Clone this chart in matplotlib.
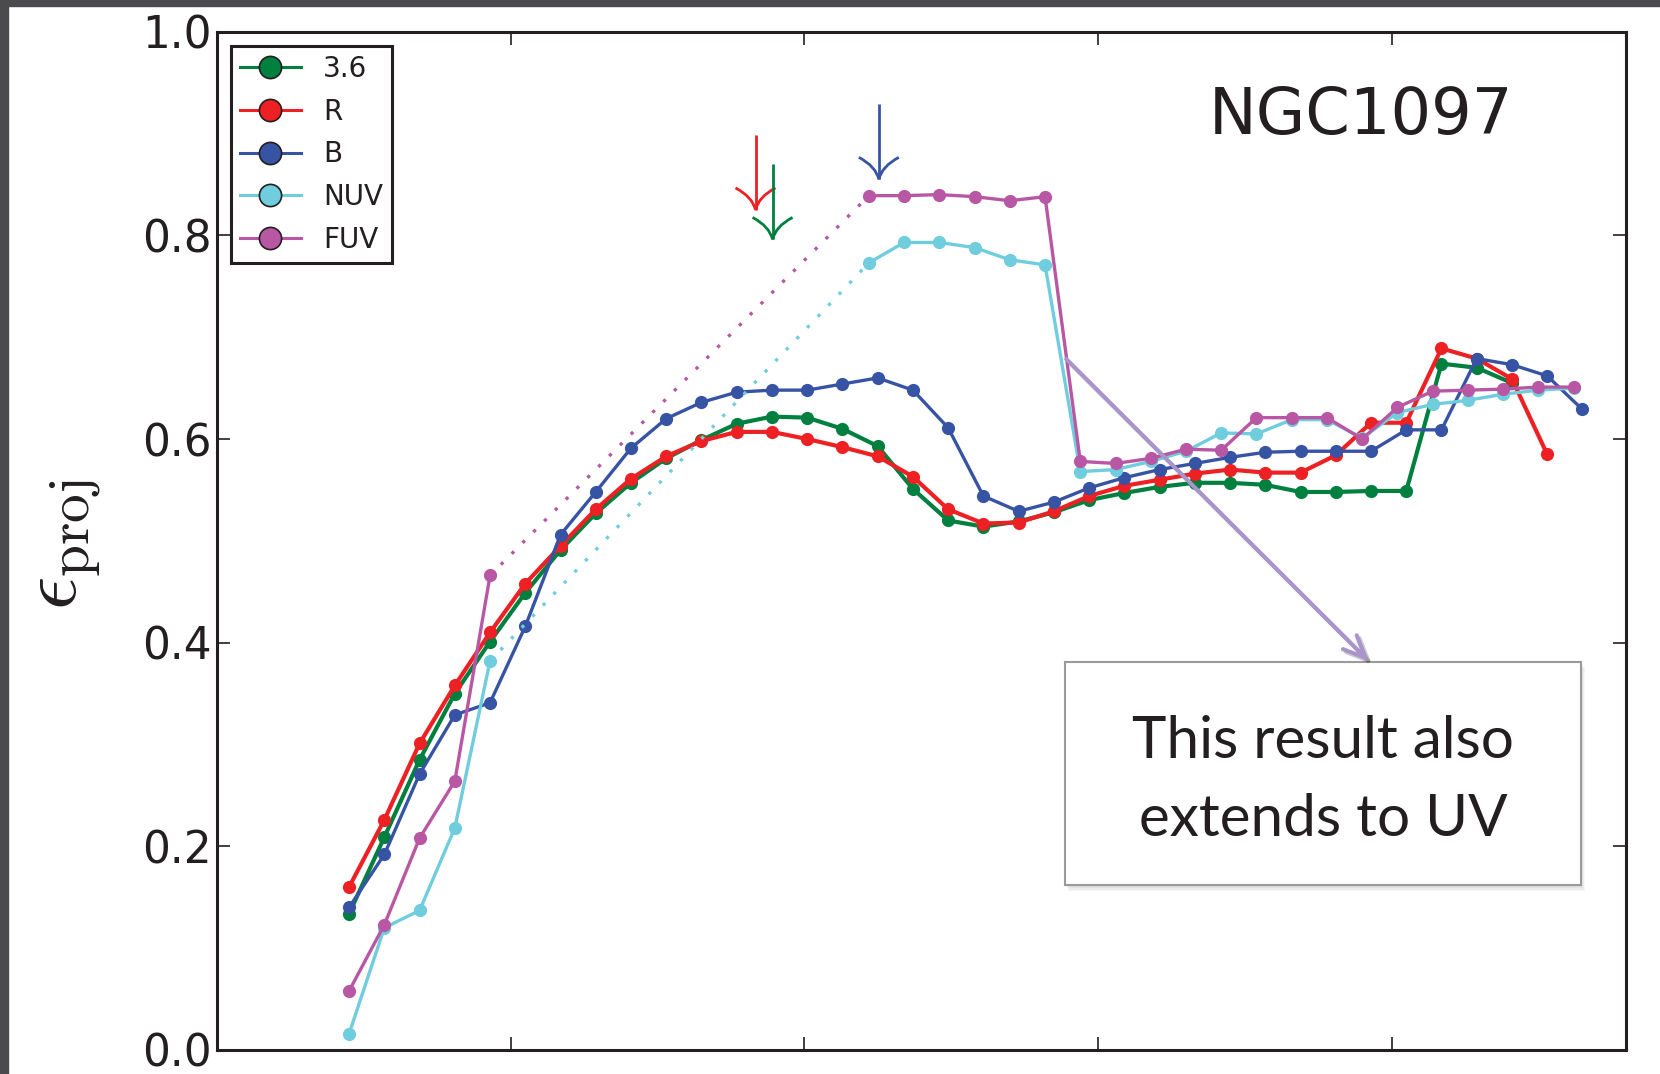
import matplotlib.pyplot as plt
import matplotlib.patheffects as pe
from matplotlib.lines import Line2D
from matplotlib.patches import Rectangle, PathPatch
from matplotlib.path import Path

plt.rcParams['mathtext.fontset'] = 'cm'
ink = '#231f20'

# radial bins of the optical / IR profiles
r_opt = [22.5, 28.5, 34.5, 40.5, 46.5, 52.5, 58.5, 64.5, 70.5, 76.5,
         82.5, 88.5, 94.5, 100.5, 106.5, 112.5, 118.5, 124.5, 130.5, 136.5,
         142.5, 148.5, 154.5, 160.5, 166.5, 172.5, 178.5, 184.5, 190.5, 196.5,
         202.5, 208.5, 214.5, 220.5, 226.5, 232.5]
# UV bins: inner part on the optical grid, outer part on its own grid
r_uv_in = [22.5, 28.5, 34.5, 40.5, 46.5]
r_uv_out = [111, 117, 123, 129, 135, 141, 147, 153, 159, 165, 171,
            177, 183, 189, 195, 201, 207, 213, 219, 225, 231]

eps_36 = [0.134, 0.209, 0.285, 0.350, 0.401, 0.449, 0.491, 0.527, 0.557, 0.581,
          0.599, 0.615, 0.622, 0.621, 0.610, 0.593, 0.551, 0.520, 0.514, 0.519,
          0.528, 0.540, 0.547, 0.553, 0.557, 0.557, 0.555, 0.548, 0.548, 0.549,
          0.549, 0.674, 0.670, 0.655]
eps_R = [0.160, 0.226, 0.301, 0.358, 0.410, 0.458, 0.495, 0.531, 0.561, 0.583,
         0.598, 0.607, 0.607, 0.600, 0.592, 0.583, 0.563, 0.531, 0.517, 0.518,
         0.529, 0.544, 0.554, 0.560, 0.566, 0.570, 0.567, 0.567, 0.584, 0.616,
         0.616, 0.689, 0.679, 0.659, 0.585]
eps_B = [0.140, 0.192, 0.271, 0.329, 0.341, 0.416, 0.506, 0.548, 0.591, 0.620,
         0.636, 0.646, 0.648, 0.648, 0.654, 0.660, 0.648, 0.611, 0.544, 0.529,
         0.538, 0.552, 0.562, 0.570, 0.576, 0.582, 0.587, 0.588, 0.588, 0.588,
         0.609, 0.609, 0.679, 0.673, 0.662, 0.629]
eps_nuv_in = [0.016, 0.120, 0.137, 0.218, 0.382]
eps_nuv_out = [0.773, 0.793, 0.793, 0.788, 0.776, 0.771, 0.568, 0.570, 0.578,
               0.588, 0.606, 0.605, 0.619, 0.619, 0.601, 0.626, 0.634, 0.638,
               0.644, 0.648, 0.650]
eps_fuv_in = [0.058, 0.123, 0.208, 0.264, 0.466]
eps_fuv_out = [0.839, 0.839, 0.840, 0.838, 0.834, 0.838, 0.578, 0.576, 0.581,
               0.590, 0.589, 0.621, 0.621, 0.621, 0.600, 0.631, 0.647, 0.648,
               0.649, 0.651, 0.651]

# bar ends marked with arrows: radius and arrow tip height
bar_end_r = {'R': 91.7, '3.6': 94.6, 'B': 112.7}
bar_arrow_tip = {'R': 0.825, '3.6': 0.796, 'B': 0.855}

colors = {'3.6': '#00803f', 'R': '#ed2024', 'B': '#3753a4',
          'NUV': '#6fcddd', 'FUV': '#b857a4'}

fig = plt.figure(figsize=(16.6, 10.74), dpi=100)
ax = fig.add_axes([0.1307, 0.02235, 0.8491, 0.94814])

# dark frame of the slide along left and top edge
fig.patches.append(Rectangle((0, 0), 8 / 1660, 1, transform=fig.transFigure,
                             color='#4b4b4d', zorder=10))
fig.patches.append(Rectangle((0, 1 - 6 / 1074), 1, 6 / 1074,
                             transform=fig.transFigure, color='#4b4b4d', zorder=10))

ms = 9.5
ax.plot(r_opt[:len(eps_36)], eps_36, '-o', color=colors['3.6'], lw=3.0, ms=ms, mew=0)
ax.plot(r_opt[:len(eps_R)], eps_R, '-o', color=colors['R'], lw=3.0, ms=ms, mew=0)
ax.plot(r_opt, eps_B, '-o', color=colors['B'], lw=2.4, ms=ms, mew=0)

dots = (0, (1, 3.6))
for name, e_in, e_out in [('NUV', eps_nuv_in, eps_nuv_out),
                          ('FUV', eps_fuv_in, eps_fuv_out)]:
    c = colors[name]
    ax.plot(r_uv_in, e_in, '-o', color=c, lw=2.4, ms=ms, mew=0)
    ax.plot(r_uv_out, e_out, '-o', color=c, lw=2.4, ms=ms, mew=0)
    ax.plot([r_uv_in[-1], r_uv_out[0]], [e_in[-1], e_out[0]],
            linestyle=dots, color=c, lw=2.4)

ax.set_xlim(0, 240)
ax.set_ylim(0, 1.0)
ax.set_xticks([50, 100, 150, 200])
ax.set_yticks([0.0, 0.2, 0.4, 0.6, 0.8, 1.0])
ax.tick_params(direction='in', length=9.5, width=1.2, top=True, right=True,
               labelbottom=False, labelsize=31.5, pad=4, colors=ink)
for sp in ax.spines.values():
    sp.set_linewidth(2.2)
    sp.set_color(ink)

fig.text(0.039, 0.493, r'$\epsilon_{\rm proj}$', rotation=90, fontsize=59,
         ha='center', va='center', color=ink)

# legend with larger outlined markers
handles = [Line2D([], [], color=colors[k], lw=2.2, marker='o', ms=16,
                  mec=ink, mew=1.2) for k in ['3.6', 'R', 'B', 'NUV', 'FUV']]
leg = ax.legend(handles, ['3.6', 'R', 'B', 'NUV', 'FUV'], loc='upper left',
                bbox_to_anchor=(0.0099, 0.986), borderaxespad=0, fontsize=20,
                handlelength=2.2, handletextpad=0.8, labelspacing=0.53,
                borderpad=0.32, fancybox=False, framealpha=1)
leg.get_frame().set_edgecolor(ink)
leg.get_frame().set_linewidth(2.2)
for t in leg.get_texts():
    t.set_color(ink)

ax.text(0.7038, 0.8998, 'NGC1097', transform=ax.transAxes, fontsize=46,
        va='baseline', ha='left', color=ink)

# curved-head arrows marking the bar ends
bbox = ax.get_window_extent()
sx = 240 / bbox.width * fig.dpi / 100
sy = 1.0 / bbox.height * fig.dpi / 100
for k, x in bar_end_r.items():
    y0 = bar_arrow_tip[k]
    c = colors[k]
    ax.plot([x, x], [y0, y0 + 75 * sy], color=c, lw=2.0, solid_capstyle='butt')
    for s in (-1, 1):
        verts = [(x + s * 20 * sx, y0 + 22 * sy), (x + s * 3 * sx, y0 + 13 * sy), (x, y0)]
        ax.add_patch(PathPatch(Path(verts, [Path.MOVETO, Path.CURVE3, Path.CURVE3]),
                               fill=False, ec=c, lw=2.0))

# call-out box
bx, by, bw, bh = 0.602, 0.1616, 0.366, 0.219
for i in range(1, 5):
    ax.add_patch(Rectangle((bx + 0.0006 * i, by - 0.0014 * i), bw, bh,
                           transform=ax.transAxes, color='#606060', alpha=0.06,
                           lw=0, zorder=5))
ax.add_patch(Rectangle((bx, by), bw, bh, transform=ax.transAxes, fc='white',
                       ec='#9a9a9a', lw=1.5, zorder=6))
ax.text(bx + bw / 2, 0.265, 'This result also\nextends to UV',
        transform=ax.transAxes, ha='center', va='center', fontsize=42,
        family='Lato', linespacing=1.58, color=ink, zorder=7)

ann = ax.annotate('', xy=(196.2, 0.3814), xytext=(144.6, 0.6785),
                  arrowprops=dict(arrowstyle='->,head_length=1.6,head_width=0.7',
                                  color='#a995ca', lw=3, shrinkA=0, shrinkB=0),
                  zorder=8)
ann.arrow_patch.set_path_effects([
    pe.SimpleLineShadow(offset=(2, -2), shadow_color='k', alpha=0.2),
    pe.Normal()])

fig.savefig('out.png', dpi=100)
